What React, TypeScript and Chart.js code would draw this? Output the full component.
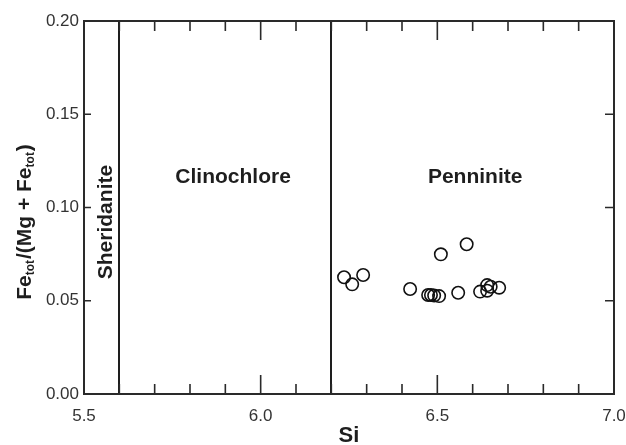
import React, { useEffect, useRef } from "react";
import { Chart, registerables } from "chart.js";

Chart.register(...registerables);

// Data
const siValues = [6.236, 6.259, 6.290, 6.423, 6.474, 6.482, 6.491, 6.505, 6.510, 6.583, 6.559, 6.621, 6.641, 6.641, 6.651, 6.675];
const feRatio = [0.0626, 0.0588, 0.0638, 0.0563, 0.0531, 0.0531, 0.0528, 0.0525, 0.0749, 0.0803, 0.0543, 0.0549, 0.0584, 0.0554, 0.0575, 0.0570];

const boundaries = [5.6, 6.2];
const regionNames = ["Sheridanite", "Clinochlore", "Penninite"];
const regionX = [5.562, 5.922, 6.607];
const regionY = [0.0922, 0.1164, 0.1164];
const regionRotated = [true, false, false];

const xMin = 5.5, xMax = 7.0, xMajor = 0.5, xMinor = 0.1;
const yMin = 0, yMax = 0.2, yMajor = 0.05;

const FONT = "'Liberation Sans', Arial, Helvetica, sans-serif";

const decorPlugin = {
  id: "decor",
  afterDraw(chart: any) {
    const ctx = chart.ctx as CanvasRenderingContext2D;
    const xs = chart.scales.x;
    const ys = chart.scales.y;
    const { left, right, top, bottom } = chart.chartArea;
    ctx.save();
    // boundaries
    ctx.strokeStyle = "#1e1e1e";
    ctx.lineWidth = 2;
    boundaries.forEach((b) => {
      const px = Math.round(xs.getPixelForValue(b));
      ctx.beginPath();
      ctx.moveTo(px, top);
      ctx.lineTo(px, bottom);
      ctx.stroke();
    });
    // frame
    ctx.strokeStyle = "#2a2a2a";
    ctx.lineWidth = 2;
    ctx.strokeRect(left, top, right - left, bottom - top);
    // ticks
    ctx.lineWidth = 1.6;
    const nMinor = Math.round((xMax - xMin) / xMinor);
    for (let i = 0; i <= nMinor; i++) {
      const v = xMin + i * xMinor;
      const isMajor = Math.abs(v / xMajor - Math.round(v / xMajor)) < 1e-6;
      const len = isMajor ? 19 : 10;
      const px = xs.getPixelForValue(v);
      ctx.beginPath();
      ctx.moveTo(px, bottom);
      ctx.lineTo(px, bottom - len);
      ctx.moveTo(px, top);
      ctx.lineTo(px, top + len);
      ctx.stroke();
    }
    const nY = Math.round((yMax - yMin) / yMajor);
    for (let i = 1; i < nY; i++) {
      const py = ys.getPixelForValue(yMin + i * yMajor);
      ctx.beginPath();
      ctx.moveTo(left, py);
      ctx.lineTo(left + 7, py);
      ctx.moveTo(right, py);
      ctx.lineTo(right - 9, py);
      ctx.stroke();
    }
    // region labels
    ctx.fillStyle = "#1e1e1e";
    ctx.font = `bold 21px ${FONT}`;
    ctx.textAlign = "center";
    ctx.textBaseline = "middle";
    regionNames.forEach((name, i) => {
      const px = xs.getPixelForValue(regionX[i]);
      const py = ys.getPixelForValue(regionY[i]);
      ctx.save();
      ctx.translate(px, py);
      if (regionRotated[i]) ctx.rotate(-Math.PI / 2);
      ctx.fillText(name, 0, 0);
      ctx.restore();
    });
    // x title
    ctx.font = `bold 22px ${FONT}`;
    ctx.fillText("Si", (left + right) / 2, 436);
    // y title with subscripts
    const parts: [string, boolean][] = [
      ["Fe", false],
      ["tot", true],
      ["/(Mg + Fe", false],
      ["tot", true],
      [")", false],
    ];
    const bigFont = `bold 21px ${FONT}`;
    const smallFont = `bold 12px ${FONT}`;
    let total = 0;
    const widths = parts.map(([t, sub]) => {
      ctx.font = sub ? smallFont : bigFont;
      const w = ctx.measureText(t).width + (sub ? 1 : 0);
      total += w;
      return w;
    });
    ctx.save();
    ctx.translate(23, 222);
    ctx.rotate(-Math.PI / 2);
    ctx.textAlign = "left";
    ctx.textBaseline = "alphabetic";
    let cx = -total / 2;
    parts.forEach(([t, sub], i) => {
      ctx.font = sub ? smallFont : bigFont;
      ctx.fillText(t, cx, sub ? 11 : 7.5);
      cx += widths[i];
    });
    ctx.restore();
    ctx.restore();
  },
};

export default function App() {
  const ref = useRef<HTMLCanvasElement>(null);
  useEffect(() => {
    if (!ref.current) return;
    const chart = new Chart(ref.current, {
      type: "scatter",
      data: {
        datasets: [
          {
            data: siValues.map((x, i) => ({ x, y: feRatio[i] })),
            pointStyle: "circle",
            pointRadius: 6.2,
            pointBorderWidth: 1.6,
            pointBorderColor: "#111",
            pointBackgroundColor: "rgba(0,0,0,0)",
            borderColor: "#111",
            backgroundColor: "rgba(0,0,0,0)",
          },
        ],
      },
      options: {
        responsive: false,
        animation: false,
        devicePixelRatio: 1,
        layout: { padding: { top: 21, right: 12, left: 0, bottom: 0 } },
        plugins: { legend: { display: false }, tooltip: { enabled: false } },
        scales: {
          x: {
            type: "linear",
            position: "bottom",
            min: xMin,
            max: xMax,
            grid: { display: false, drawTicks: false },
            border: { display: false },
            ticks: {
              stepSize: xMajor,
              padding: 12,
              color: "#333",
              font: { size: 17, family: FONT },
              maxRotation: 0,
              callback: (v: any) => Number(v).toFixed(1),
            },
            afterFit: (s: any) => {
              s.height = 51;
              s.paddingLeft = 0;
              s.paddingRight = 0;
            },
          },
          y: {
            type: "linear",
            min: yMin,
            max: yMax,
            grid: { display: false, drawTicks: false },
            border: { display: false },
            ticks: {
              stepSize: yMajor,
              padding: 5,
              color: "#333",
              font: { size: 17, family: FONT },
              callback: (v: any) => Number(v).toFixed(2),
            },
            afterFit: (s: any) => {
              s.width = 84;
              s.paddingTop = 0;
              s.paddingBottom = 0;
            },
          },
        },
      },
      plugins: [decorPlugin],
    });
    return () => chart.destroy();
  }, []);
  return (
    <div style={{ position: "fixed", left: 0, top: 0, width: 626, height: 445, background: "#fff" }}>
      <canvas ref={ref} width={626} height={445} style={{ display: "block" }} />
    </div>
  );
}
